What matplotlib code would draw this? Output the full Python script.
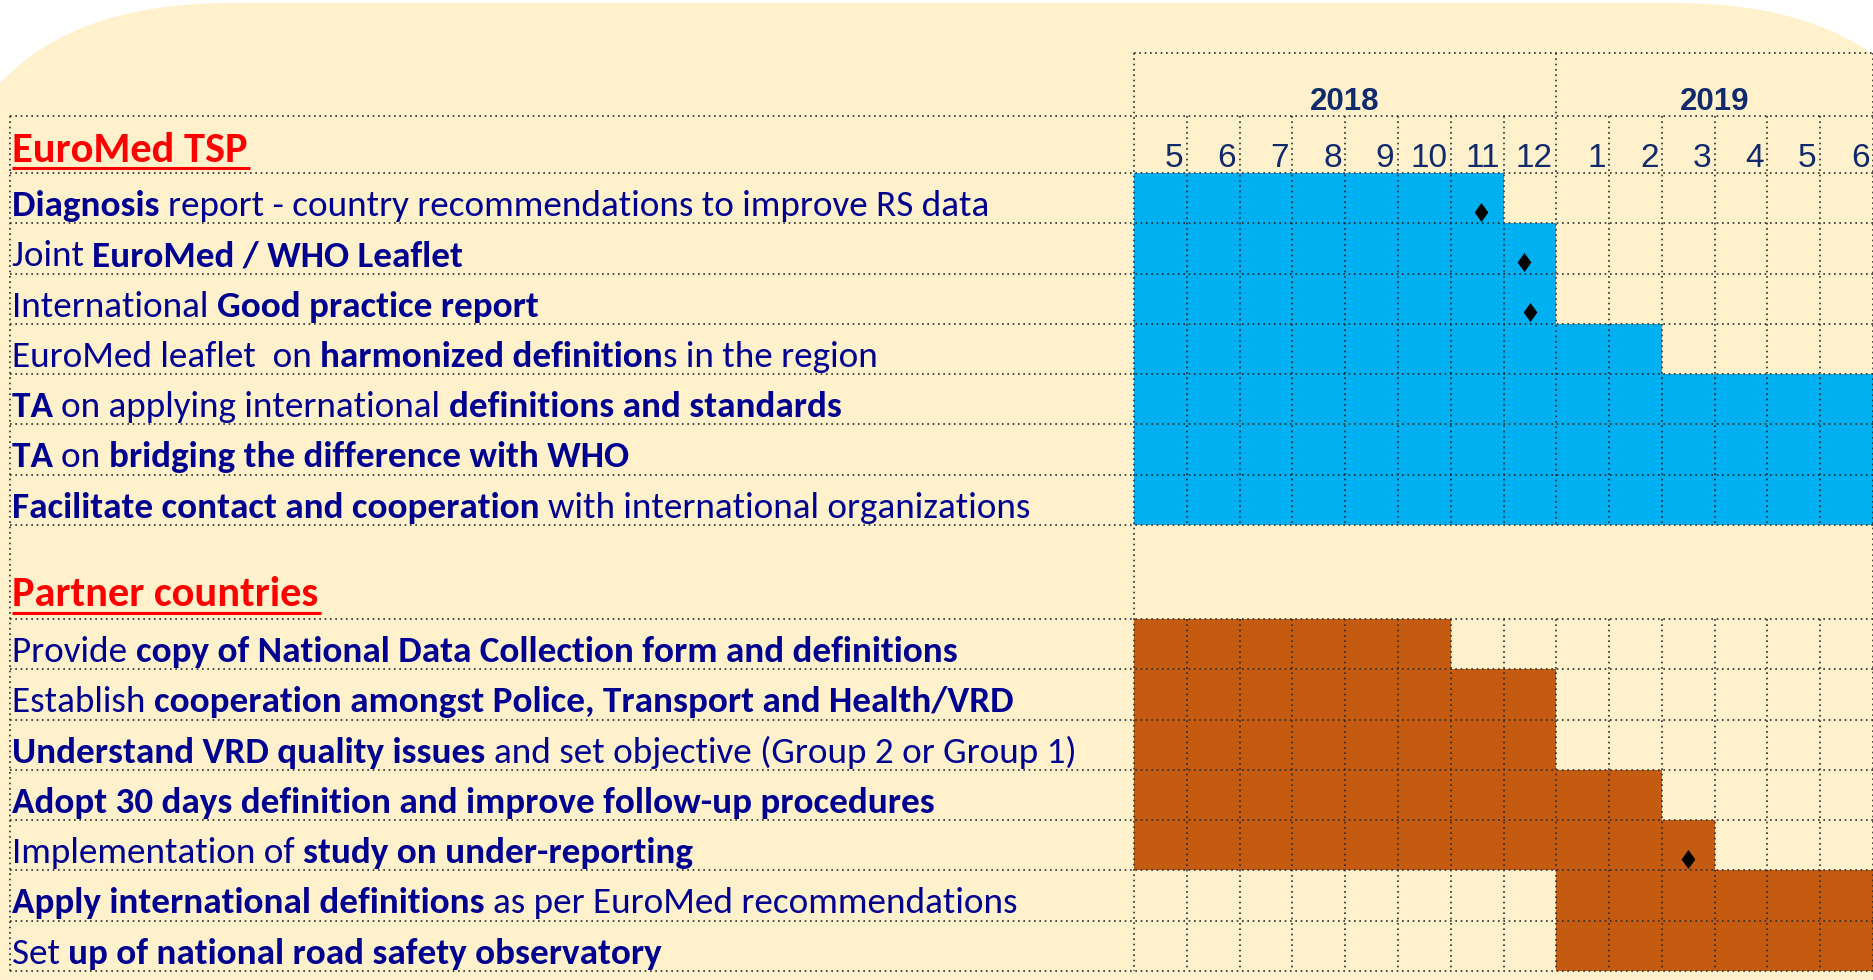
import matplotlib
matplotlib.use('Agg')
import matplotlib.pyplot as plt
from matplotlib.patches import FancyBboxPatch
from matplotlib.collections import LineCollection
from matplotlib.font_manager import FontProperties, fontManager
from matplotlib.textpath import TextPath

# ---------------- data ----------------
years = ['2018', '2019']
year_months = [8, 6]
months = ['5', '6', '7', '8', '9', '10', '11', '12', '1', '2', '3', '4', '5', '6']

euromed_title = 'EuroMed TSP'
euromed_tasks = [
    [('Diagnosis ', True), ('report - country recommendations to improve RS data', False)],
    [('Joint ', False), ('EuroMed / WHO Leaflet', True)],
    [('International ', False), ('Good practice report', True)],
    [('EuroMed leaflet  on ', False), ('harmonized definition', True), ('s in the region', False)],
    [('TA ', True), ('on applying international ', False), ('definitions and standards', True)],
    [('TA ', True), ('on ', False), ('bridging the difference with WHO', True)],
    [('Facilitate contact and cooperation ', True), ('with international organizations', False)],
]
euromed_start = [0, 0, 0, 0, 0, 0, 0]
euromed_months = [7, 8, 8, 10, 14, 14, 14]
euromed_milestones = [6.58, 7.39, 7.5, None, None, None, None]

partner_title = 'Partner countries'
partner_tasks = [
    [('Provide ', False), ('copy of National Data Collection form and definitions', True)],
    [('Establish ', False), ('cooperation amongst Police, Transport and Health/VRD', True)],
    [('Understand VRD quality issues ', True), ('and set objective (Group 2 or Group 1)', False)],
    [('Adopt 30 days definition and improve follow-up procedures', True)],
    [('Implementation of ', False), ('study on under-reporting', True)],
    [('Apply international definitions ', True), ('as per EuroMed recommendations', False)],
    [('Set ', False), ('up of national road safety observatory', True)],
]
partner_start = [0, 0, 0, 0, 0, 8, 8]
partner_months = [6, 8, 8, 10, 11, 6, 6]
partner_milestones = [None, None, None, None, 10.49, None, None]

# ---------------- style / layout ----------------
W, H, DPI = 1874, 980, 100
CREAM = '#FFF1CC'
BLUE = '#00B0F0'
BROWN = '#C55A11'
TEXT_COLOR = '#000090'
NUM_COLOR = '#102A6B'
RED = '#FF0000'
DOTS = dict(colors='#2a2a2a', linewidths=1.2, linestyles=[(0, (1, 2.2))])

GRID_LEFT, COL_W = 1134, 52.79
GRID_TOP, GRID_BOTTOM = 173, 971
GAP = 1.87
PARTNER_OFF = len(euromed_tasks) + GAP
N_ROWS = PARTNER_OFF + len(partner_tasks)
ROW_H = (GRID_BOTTOM - GRID_TOP) / N_ROWS
TEXT_X = 12

names = {f.name for f in fontManager.ttflist}
TEXT_FONT = 'Carlito' if 'Carlito' in names else 'Lato'
NUM_FONT = 'Liberation Sans Narrow' if 'Liberation Sans Narrow' in names else 'Liberation Sans'


def px_x(px):
    return (px - GRID_LEFT) / COL_W


def px_y(py):
    return (py - GRID_TOP) / ROW_H


fig = plt.figure(figsize=(W / DPI, H / DPI), dpi=DPI, facecolor='white')
renderer = fig.canvas.get_renderer()

bg = fig.add_axes([0, 0, 1, 1])
bg.set_xlim(0, W)
bg.set_ylim(H, 0)
bg.axis('off')
bg.add_patch(FancyBboxPatch((-70, 3), 2046, 1300, boxstyle='round,pad=0,rounding_size=300',
                            fc=CREAM, ec='none'))

gantt = fig.add_axes([GRID_LEFT / W, (H - GRID_BOTTOM) / H, 14 * COL_W / W, (GRID_BOTTOM - GRID_TOP) / H])
gantt.set_xlim(0, len(months))
gantt.set_ylim(N_ROWS, 0)
gantt.axis('off')
gantt.patch.set_visible(False)


def advance(s, size, bold):
    t = fig.text(0, 0, s + '|', fontsize=size, fontweight='bold' if bold else 'normal', family=TEXT_FONT)
    w1 = t.get_window_extent(renderer).width
    t.set_text('|')
    w2 = t.get_window_extent(renderer).width
    t.remove()
    return w1 - w2


def ink_width(s, **kw):
    t = fig.text(0, 0, s, **kw)
    w = t.get_window_extent(renderer).width
    t.remove()
    return w


# font size from the widest label in the picture (about 1063 px)
ref_w = sum(advance(s, 20, b) for s, b in partner_tasks[2])
label_size = 20 * 1063 / ref_w
cap_px = TextPath((0, 0), 'H', size=label_size,
                  prop=FontProperties(family=TEXT_FONT)).get_extents().height * DPI / 72
head_size = 20 * 236 / ink_width(euromed_title, fontsize=20, fontweight='bold', family=TEXT_FONT)

# ---------------- bars and milestones ----------------
diamond = [(0, 1), (0.72, 0), (0, -1), (-0.72, 0), (0, 1)]
for off, starts, lens, ms in [(0, euromed_start, euromed_months, euromed_milestones),
                              (PARTNER_OFF, partner_start, partner_months, partner_milestones)]:
    color = BLUE if off == 0 else BROWN
    ys = [off + i + 0.5 for i in range(len(starts))]
    gantt.barh(ys, lens, left=starts, height=1.0, color=color, linewidth=0, zorder=1)
    mx = [m for m in ms if m is not None]
    my = [y + 0.27 for y, m in zip(ys, ms) if m is not None]
    gantt.plot(mx, my, ls='none', marker=diamond, ms=13.7, color='black', mew=0, zorder=4)

# ---------------- dotted grid ----------------
xl = px_x(10)
ytop, ymid = px_y(53), px_y(116)
n_e, n_p = len(euromed_tasks), len(partner_tasks)
segs = [[(0, ytop), (len(months), ytop)], [(xl, ymid), (len(months), ymid)]]
for r in range(n_e + 1):
    segs.append([(xl, r), (len(months), r)])
for r in range(n_p + 1):
    segs.append([(xl, PARTNER_OFF + r), (len(months), PARTNER_OFF + r)])
segs.append([(xl, ymid), (xl, N_ROWS)])
for c in range(len(months) + 1):
    y0 = ytop if c in (0, year_months[0], len(months)) else ymid
    if c in (0, len(months)):
        segs.append([(c, y0), (c, N_ROWS)])
    else:
        segs.append([(c, y0), (c, n_e)])
        segs.append([(c, PARTNER_OFF), (c, N_ROWS)])
lc = LineCollection(segs, zorder=3, clip_on=False, **DOTS)
gantt.add_collection(lc)

# ---------------- header ----------------
for i, m in enumerate(months):
    gantt.text(i + 1 - 3.5 / COL_W, px_y(167), m, ha='right', va='baseline', fontsize=24,
               family=NUM_FONT, color=NUM_COLOR, clip_on=False)
pos = 0
for y, n in zip(years, year_months):
    gantt.text(pos + n / 2, px_y(110), y, ha='center', va='baseline', fontsize=22.5,
               fontweight='bold', family=NUM_FONT, color=NUM_COLOR, clip_on=False)
    pos += n

# ---------------- section titles ----------------
for title, base in [(euromed_title, 162), (partner_title, 606)]:
    bg.text(TEXT_X, base, title, ha='left', va='baseline', fontsize=head_size,
            fontweight='bold', family=TEXT_FONT, color=RED)
    w = ink_width(title, fontsize=head_size, fontweight='bold', family=TEXT_FONT)
    bg.plot([TEXT_X, TEXT_X + w + 3], [base + 6.5, base + 6.5], color=RED, lw=2.2, solid_capstyle='butt')

# ---------------- task labels ----------------
for off, tasks in [(0, euromed_tasks), (PARTNER_OFF, partner_tasks)]:
    for i, task in enumerate(tasks):
        dx = 0
        for s, b in task:
            gantt.annotate(s, xy=(px_x(TEXT_X), off + i + 0.5), xycoords='data',
                           xytext=(dx, -cap_px / 2 - 6), textcoords='offset pixels',
                           ha='left', va='baseline', fontsize=label_size,
                           fontweight='bold' if b else 'normal', family=TEXT_FONT,
                           color=TEXT_COLOR, annotation_clip=False)
            dx += advance(s, label_size, b)

fig.savefig('out.png', dpi=DPI, facecolor='white')
